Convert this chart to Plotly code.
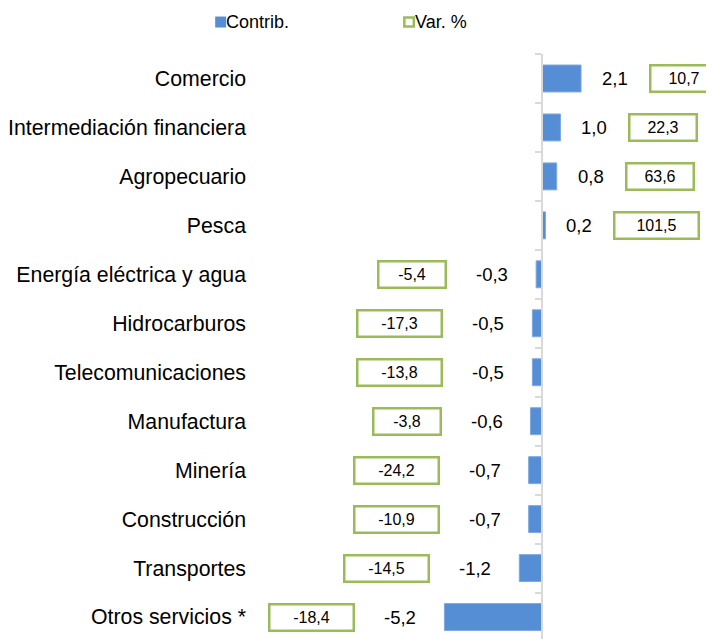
import plotly.graph_objects as go

# Data (top to bottom)
sectors = [
    "Comercio", "Intermediación financiera", "Agropecuario", "Pesca",
    "Energía eléctrica y agua", "Hidrocarburos", "Telecomunicaciones",
    "Manufactura", "Minería", "Construcción", "Transportes", "Otros servicios *",
]
contrib = [2.1, 1.0, 0.8, 0.2, -0.3, -0.5, -0.5, -0.6, -0.7, -0.7, -1.2, -5.2]
var_pct = [10.7, 22.3, 63.6, 101.5, -5.4, -17.3, -13.8, -3.8, -24.2, -10.9, -14.5, -18.4]

BLUE = "#558ed5"
GREEN = "#9bbb59"
FONT = "Liberation Sans, Arial, sans-serif"

# the page puts the figure 8px in from the top-left corner
OFF = 8
W, H = 714 - OFF, 639 - OFF
ML, MR, MT, MB = 252 - OFF, 0, 53.5 - OFF, 0
PW, PH = W - ML - MR, H - MT - MB
PX_PER_UNIT = 18.8
ZERO_PX = 541
X_RANGE = [-(ZERO_PX - OFF - ML) / PX_PER_UNIT, (OFF + W - MR - ZERO_PX) / PX_PER_UNIT]
ROW_PX = 49
Y_RANGE = [-0.5 + PH / ROW_PX, -0.5]


def fmt(v):
    return f"{v:.1f}".replace(".", ",")


def px_x(p):
    # screen pixel -> paper fraction
    return (p - OFF - ML) / PW


def px_y(p):
    return (H - MB - (p - OFF)) / PH


fig = go.Figure()

fig.add_trace(go.Bar(
    x=contrib, y=sectors, orientation="h", width=0.55,
    marker=dict(color=BLUE, line=dict(color="#7fa9e0", width=1)),
    showlegend=False, hoverinfo="skip",
))

# dummy trace to carry the zero axis line with its boundary ticks
fig.add_trace(go.Scatter(
    x=[0], y=[0], yaxis="y2", mode="markers",
    marker=dict(opacity=0), showlegend=False, hoverinfo="skip",
))

# contribution labels
for s, c in zip(sectors, contrib):
    fig.add_annotation(
        x=c, y=s, xref="x", yref="y", text=fmt(c), showarrow=False,
        xanchor="left" if c >= 0 else "right",
        xshift=19 if c >= 0 else -26,
        font=dict(family=FONT, size=18.5, color="#000000"),
    )

# variation labels in boxes
for s, c, v in zip(sectors, contrib, var_pct):
    t = fmt(v)
    fig.add_annotation(
        x=c, y=s, xref="x", yref="y", text=t, showarrow=False,
        xanchor="left" if c >= 0 else "right",
        xshift=68 if c >= 0 else -89,
        width=61 if len(t) <= 4 else 78, height=20, align="center",
        bordercolor=GREEN, borderwidth=2.5, borderpad=2, bgcolor="white",
        font=dict(family=FONT, size=16, color="#000000"),
    )

# legend (manual, to keep the tight symbol/text spacing)
fig.add_shape(type="rect", xref="paper", yref="paper",
              x0=px_x(213), x1=px_x(224), y0=px_y(27), y1=px_y(16),
              fillcolor=BLUE, line=dict(width=0))
fig.add_shape(type="rect", xref="paper", yref="paper",
              x0=px_x(403), x1=px_x(412.5), y0=px_y(26), y1=px_y(17),
              fillcolor="white", line=dict(color=GREEN, width=2.5))
fig.add_annotation(x=px_x(222), y=px_y(21.5), xref="paper", yref="paper",
                   text="Contrib.", showarrow=False,
                   xanchor="left", yanchor="middle",
                   font=dict(family=FONT, size=18, color="#000000"))
fig.add_annotation(x=px_x(411.5), y=px_y(21.5), xref="paper", yref="paper",
                   text="Var. %", showarrow=False,
                   xanchor="left", yanchor="middle",
                   font=dict(family=FONT, size=18, color="#000000"))

zero_pos = (0 - X_RANGE[0]) / (X_RANGE[1] - X_RANGE[0])

fig.update_layout(
    width=W, height=H,
    margin=dict(l=ML, r=MR, t=MT, b=MB, pad=0),
    paper_bgcolor="white", plot_bgcolor="white",
    showlegend=False,
    xaxis=dict(range=X_RANGE, visible=False, fixedrange=True),
    yaxis=dict(
        type="category", range=Y_RANGE, showline=False, showgrid=False,
        ticks="", zeroline=False, ticklabelstandoff=7,
        tickfont=dict(family=FONT, size=21.3, color="#000000"),
    ),
    yaxis2=dict(
        range=Y_RANGE, overlaying="y", anchor="free", position=zero_pos,
        side="left", showline=True, linecolor="#d9d9d9", linewidth=2,
        ticks="outside", ticklen=6, tickwidth=2, tickcolor="#d9d9d9",
        tickvals=[i - 0.5 for i in range(len(sectors) + 1)],
        showticklabels=False, showgrid=False, zeroline=False,
    ),
)

fig.write_html("out.html")
